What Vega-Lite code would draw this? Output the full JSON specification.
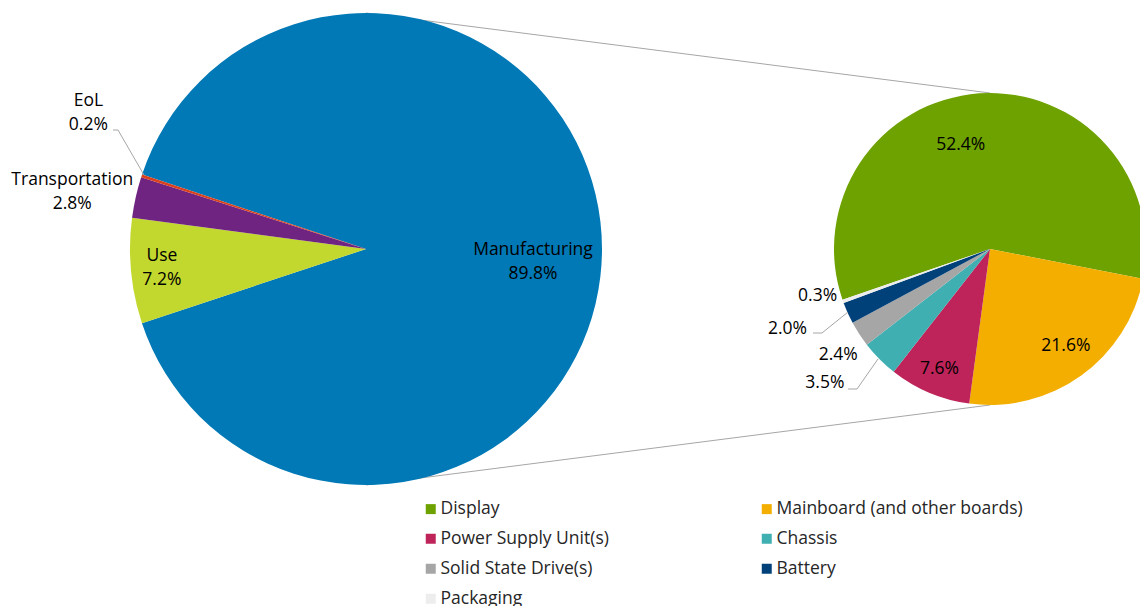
{
  "$schema": "https://vega.github.io/schema/vega-lite/v6.json",
  "width": 1140,
  "height": 498,
  "autosize": {"type": "none"},
  "padding": {"left": 0, "top": 0, "right": 0, "bottom": 108},
  "background": "white",
  "config": {
    "view": {"stroke": null},
    "text": {"font": "Open Sans", "fontSize": 17.5, "color": "#000000"}
  },
  "datasets": {
    "pies": [
      {"group": "Life cycle", "name": "Manufacturing", "value": 89.8},
      {"group": "Life cycle", "name": "Use", "value": 7.2},
      {"group": "Life cycle", "name": "Transportation", "value": 2.8},
      {"group": "Life cycle", "name": "EoL", "value": 0.2},
      {"group": "Manufacturing breakdown", "name": "Display", "value": 52.4},
      {"group": "Manufacturing breakdown", "name": "Mainboard (and other boards)", "value": 21.6},
      {"group": "Manufacturing breakdown", "name": "Power Supply Unit(s)", "value": 7.6},
      {"group": "Manufacturing breakdown", "name": "Chassis", "value": 3.5},
      {"group": "Manufacturing breakdown", "name": "Solid State Drive(s)", "value": 2.4},
      {"group": "Manufacturing breakdown", "name": "Battery", "value": 2.0},
      {"group": "Manufacturing breakdown", "name": "Packaging", "value": 0.3}
    ]
  },
  "layer": [
    {
      "layer": [
        {
          "data": {"values": [{}]},
          "mark": {"type": "rule", "color": "#A6A6A6", "strokeWidth": 1},
          "encoding": {
            "x": {"datum": "Life cycle", "type": "nominal", "scale": {"type": "point", "domain": ["Life cycle", "Manufacturing breakdown"], "range": [366, 990], "padding": 0}, "axis": null},
            "x2": {"datum": "Manufacturing breakdown"},
            "y": {"datum": 236, "type": "quantitative", "scale": {"domain": [-249, 249], "nice": false, "zero": false}, "axis": null},
            "y2": {"datum": 156}
          }
        },
        {
          "data": {"values": [{}]},
          "mark": {"type": "rule", "color": "#A6A6A6", "strokeWidth": 1},
          "encoding": {
            "x": {"datum": "Life cycle", "type": "nominal", "axis": null},
            "x2": {"datum": "Manufacturing breakdown"},
            "y": {"datum": -236, "type": "quantitative", "axis": null},
            "y2": {"datum": -156}
          }
        },
        {
          "data": {"name": "pies"},
          "transform": [{"filter": "datum.group === 'Life cycle'"}],
          "mark": {"type": "arc", "radius": 236},
          "encoding": {
            "x": {"field": "group", "type": "nominal", "axis": null},
            "theta": {"field": "value", "type": "quantitative", "stack": true, "scale": {"range": [5.0335, 11.3167]}},
            "order": {"field": "value", "sort": "descending"},
            "color": {
              "field": "name", "type": "nominal",
              "scale": {
                "domain": ["Manufacturing", "Use", "Transportation", "EoL", "Display", "Mainboard (and other boards)", "Power Supply Unit(s)", "Chassis", "Solid State Drive(s)", "Battery", "Packaging"],
                "range": ["#0079B6", "#C3D82E", "#702482", "#D9411E", "#6EA200", "#F3AE00", "#BE2459", "#40AFB1", "#A6A6A6", "#00417A", "#EDEDED"]
              },
              "legend": {
                "values": ["Display", "Power Supply Unit(s)", "Solid State Drive(s)", "Packaging", "Mainboard (and other boards)", "Chassis", "Battery"],
                "title": null, "orient": "none", "legendX": 422, "legendY": 500, "columns": 2, "columnPadding": 149, "rowPadding": 11,
                "symbolType": "square", "symbolSize": 100, "symbolStrokeWidth": 0, "labelFont": "Open Sans", "labelFontSize": 17.5, "labelColor": "#262626", "labelOffset": 1, "labelLimit": 400
              }
            }
          }
        },
        {
          "data": {"name": "pies"},
          "transform": [{"filter": "datum.group === 'Manufacturing breakdown'"}],
          "mark": {"type": "arc", "radius": 156},
          "encoding": {
            "x": {"field": "group", "type": "nominal", "axis": null},
            "theta": {"field": "value", "type": "quantitative", "stack": true, "scale": {"range": [4.3807, 10.6639]}},
            "order": {"field": "value", "sort": "descending"},
            "color": {
              "field": "name", "type": "nominal",
              "legend": {
                "values": ["Display", "Power Supply Unit(s)", "Solid State Drive(s)", "Packaging", "Mainboard (and other boards)", "Chassis", "Battery"],
                "title": null, "orient": "none", "legendX": 422, "legendY": 500, "columns": 2, "columnPadding": 149, "rowPadding": 11,
                "symbolType": "square", "symbolSize": 100, "symbolStrokeWidth": 0, "labelFont": "Open Sans", "labelFontSize": 17.5, "labelColor": "#262626", "labelOffset": 1, "labelLimit": 400
              }
            }
          }
        },
        {
          "data": {"name": "pies"},
          "transform": [{"filter": "datum.group === 'Life cycle'"}, {"calculate": "datum.name + '\\n' + format(datum.value, '.1f') + '%'", "as": "label"}],
          "mark": {"type": "text", "radius": 167, "dy": 1, "lineBreak": "\n", "lineHeight": 24, "baseline": "middle", "align": "center"},
          "encoding": {
            "x": {"field": "group", "type": "nominal", "axis": null},
            "theta": {"field": "value", "type": "quantitative", "stack": true, "scale": {"range": [5.0335, 11.3167]}},
            "order": {"field": "value", "sort": "descending"},
            "detail": {"field": "name", "type": "nominal"},
            "text": {"condition": {"test": "datum.name === 'Manufacturing'", "field": "label", "type": "nominal"}, "value": ""}
          }
        },
        {
          "data": {"name": "pies"},
          "transform": [{"filter": "datum.group === 'Life cycle'"}, {"calculate": "datum.name + '\\n' + format(datum.value, '.1f') + '%'", "as": "label"}],
          "mark": {"type": "text", "radius": 205, "dy": -12, "lineBreak": "\n", "lineHeight": 24, "baseline": "middle", "align": "center"},
          "encoding": {
            "x": {"field": "group", "type": "nominal", "axis": null},
            "theta": {"field": "value", "type": "quantitative", "stack": true, "scale": {"range": [5.0335, 11.3167]}},
            "order": {"field": "value", "sort": "descending"},
            "detail": {"field": "name", "type": "nominal"},
            "text": {"condition": {"test": "datum.name === 'Use'", "field": "label", "type": "nominal"}, "value": ""}
          }
        },
        {
          "data": {"name": "pies"},
          "transform": [{"filter": "datum.group === 'Life cycle'"}, {"calculate": "datum.name + '\\n' + format(datum.value, '.1f') + '%'", "as": "label"}],
          "mark": {"type": "text", "radius": 301, "dy": -3, "lineBreak": "\n", "lineHeight": 24, "baseline": "middle", "align": "center"},
          "encoding": {
            "x": {"field": "group", "type": "nominal", "axis": null},
            "theta": {"field": "value", "type": "quantitative", "stack": true, "scale": {"range": [5.0335, 11.3167]}},
            "order": {"field": "value", "sort": "descending"},
            "detail": {"field": "name", "type": "nominal"},
            "text": {"condition": {"test": "datum.name === 'Transportation'", "field": "label", "type": "nominal"}, "value": ""}
          }
        },
        {
          "data": {"name": "pies"},
          "transform": [{"filter": "datum.group === 'Life cycle'"}, {"calculate": "datum.name + '\\n' + format(datum.value, '.1f') + '%'", "as": "label"}],
          "mark": {"type": "text", "radius": 292, "dy": -58, "lineBreak": "\n", "lineHeight": 24, "baseline": "middle", "align": "center"},
          "encoding": {
            "x": {"field": "group", "type": "nominal", "axis": null},
            "theta": {"field": "value", "type": "quantitative", "stack": true, "scale": {"range": [5.0335, 11.3167]}},
            "order": {"field": "value", "sort": "descending"},
            "detail": {"field": "name", "type": "nominal"},
            "text": {"condition": {"test": "datum.name === 'EoL'", "field": "label", "type": "nominal"}, "value": ""}
          }
        },
        {
          "data": {"name": "pies"},
          "transform": [{"filter": "datum.group === 'Manufacturing breakdown'"}, {"calculate": "format(datum.value, '.1f') + '%'", "as": "label"}],
          "mark": {"type": "text", "radius": 105, "dx": -22, "dy": 1, "baseline": "middle", "align": "center"},
          "encoding": {
            "x": {"field": "group", "type": "nominal", "axis": null},
            "theta": {"field": "value", "type": "quantitative", "stack": true, "scale": {"range": [4.3807, 10.6639]}},
            "order": {"field": "value", "sort": "descending"},
            "detail": {"field": "name", "type": "nominal"},
            "text": {"condition": {"test": "datum.name === 'Display'", "field": "label", "type": "nominal"}, "value": ""}
          }
        },
        {
          "data": {"name": "pies"},
          "transform": [{"filter": "datum.group === 'Manufacturing breakdown'"}, {"calculate": "format(datum.value, '.1f') + '%'", "as": "label"}],
          "mark": {"type": "text", "radius": 125, "dx": 3, "dy": -5, "baseline": "middle", "align": "center"},
          "encoding": {
            "x": {"field": "group", "type": "nominal", "axis": null},
            "theta": {"field": "value", "type": "quantitative", "stack": true, "scale": {"range": [4.3807, 10.6639]}},
            "order": {"field": "value", "sort": "descending"},
            "detail": {"field": "name", "type": "nominal"},
            "text": {"condition": {"test": "datum.name === 'Mainboard (and other boards)'", "field": "label", "type": "nominal"}, "value": ""}
          }
        },
        {
          "data": {"name": "pies"},
          "transform": [{"filter": "datum.group === 'Manufacturing breakdown'"}, {"calculate": "format(datum.value, '.1f') + '%'", "as": "label"}],
          "mark": {"type": "text", "radius": 130, "baseline": "middle", "align": "center"},
          "encoding": {
            "x": {"field": "group", "type": "nominal", "axis": null},
            "theta": {"field": "value", "type": "quantitative", "stack": true, "scale": {"range": [4.3807, 10.6639]}},
            "order": {"field": "value", "sort": "descending"},
            "detail": {"field": "name", "type": "nominal"},
            "text": {"condition": {"test": "datum.name === 'Power Supply Unit(s)'", "field": "label", "type": "nominal"}, "value": ""}
          }
        },
        {
          "data": {"name": "pies"},
          "transform": [{"filter": "datum.group === 'Manufacturing breakdown'"}, {"calculate": "format(datum.value, '.1f') + '%'", "as": "label"}],
          "mark": {"type": "text", "radius": 233, "dy": -30, "baseline": "middle", "align": "center"},
          "encoding": {
            "x": {"field": "group", "type": "nominal", "axis": null},
            "theta": {"field": "value", "type": "quantitative", "stack": true, "scale": {"range": [4.3807, 10.6639]}},
            "order": {"field": "value", "sort": "descending"},
            "detail": {"field": "name", "type": "nominal"},
            "text": {"condition": {"test": "datum.name === 'Chassis'", "field": "label", "type": "nominal"}, "value": ""}
          }
        },
        {
          "data": {"name": "pies"},
          "transform": [{"filter": "datum.group === 'Manufacturing breakdown'"}, {"calculate": "format(datum.value, '.1f') + '%'", "as": "label"}],
          "mark": {"type": "text", "radius": 181, "dy": 7, "baseline": "middle", "align": "center"},
          "encoding": {
            "x": {"field": "group", "type": "nominal", "axis": null},
            "theta": {"field": "value", "type": "quantitative", "stack": true, "scale": {"range": [4.3807, 10.6639]}},
            "order": {"field": "value", "sort": "descending"},
            "detail": {"field": "name", "type": "nominal"},
            "text": {"condition": {"test": "datum.name === 'Solid State Drive(s)'", "field": "label", "type": "nominal"}, "value": ""}
          }
        },
        {
          "data": {"name": "pies"},
          "transform": [{"filter": "datum.group === 'Manufacturing breakdown'"}, {"calculate": "format(datum.value, '.1f') + '%'", "as": "label"}],
          "mark": {"type": "text", "radius": 222, "dy": -11, "baseline": "middle", "align": "center"},
          "encoding": {
            "x": {"field": "group", "type": "nominal", "axis": null},
            "theta": {"field": "value", "type": "quantitative", "stack": true, "scale": {"range": [4.3807, 10.6639]}},
            "order": {"field": "value", "sort": "descending"},
            "detail": {"field": "name", "type": "nominal"},
            "text": {"condition": {"test": "datum.name === 'Battery'", "field": "label", "type": "nominal"}, "value": ""}
          }
        },
        {
          "data": {"name": "pies"},
          "transform": [{"filter": "datum.group === 'Manufacturing breakdown'"}, {"calculate": "format(datum.value, '.1f') + '%'", "as": "label"}],
          "mark": {"type": "text", "radius": 183, "dy": -14, "baseline": "middle", "align": "center"},
          "encoding": {
            "x": {"field": "group", "type": "nominal", "axis": null},
            "theta": {"field": "value", "type": "quantitative", "stack": true, "scale": {"range": [4.3807, 10.6639]}},
            "order": {"field": "value", "sort": "descending"},
            "detail": {"field": "name", "type": "nominal"},
            "text": {"condition": {"test": "datum.name === 'Packaging'", "field": "label", "type": "nominal"}, "value": ""}
          }
        }
      ],
      "resolve": {"scale": {"theta": "independent"}}
    },
    {
      "data": {"values": [{}]},
      "layer": [
        {
          "mark": {"type": "rule", "color": "#A6A6A6", "strokeWidth": 1},
          "encoding": {
            "x": {"datum": 113, "type": "quantitative", "scale": {"domain": [0, 1140], "nice": false, "zero": false}, "axis": null},
            "x2": {"datum": 118},
            "y": {"datum": 119, "type": "quantitative", "axis": null},
            "y2": {"datum": 119}
          }
        },
        {
          "mark": {"type": "rule", "color": "#A6A6A6", "strokeWidth": 1},
          "encoding": {
            "x": {"datum": 118, "type": "quantitative", "axis": null},
            "x2": {"datum": 144},
            "y": {"datum": 119, "type": "quantitative", "axis": null},
            "y2": {"datum": 74}
          }
        },
        {
          "mark": {"type": "rule", "color": "#A6A6A6", "strokeWidth": 1},
          "encoding": {
            "x": {"datum": 813, "type": "quantitative", "axis": null},
            "x2": {"datum": 822},
            "y": {"datum": -84, "type": "quantitative", "axis": null},
            "y2": {"datum": -84}
          }
        },
        {
          "mark": {"type": "rule", "color": "#A6A6A6", "strokeWidth": 1},
          "encoding": {
            "x": {"datum": 822, "type": "quantitative", "axis": null},
            "x2": {"datum": 848},
            "y": {"datum": -84, "type": "quantitative", "axis": null},
            "y2": {"datum": -63}
          }
        },
        {
          "mark": {"type": "rule", "color": "#A6A6A6", "strokeWidth": 1},
          "encoding": {
            "x": {"datum": 848, "type": "quantitative", "axis": null},
            "x2": {"datum": 857},
            "y": {"datum": -140, "type": "quantitative", "axis": null},
            "y2": {"datum": -140}
          }
        },
        {
          "mark": {"type": "rule", "color": "#A6A6A6", "strokeWidth": 1},
          "encoding": {
            "x": {"datum": 857, "type": "quantitative", "axis": null},
            "x2": {"datum": 878},
            "y": {"datum": -140, "type": "quantitative", "axis": null},
            "y2": {"datum": -110}
          }
        }
      ]
    }
  ],
  "resolve": {"scale": {"x": "independent"}}
}
